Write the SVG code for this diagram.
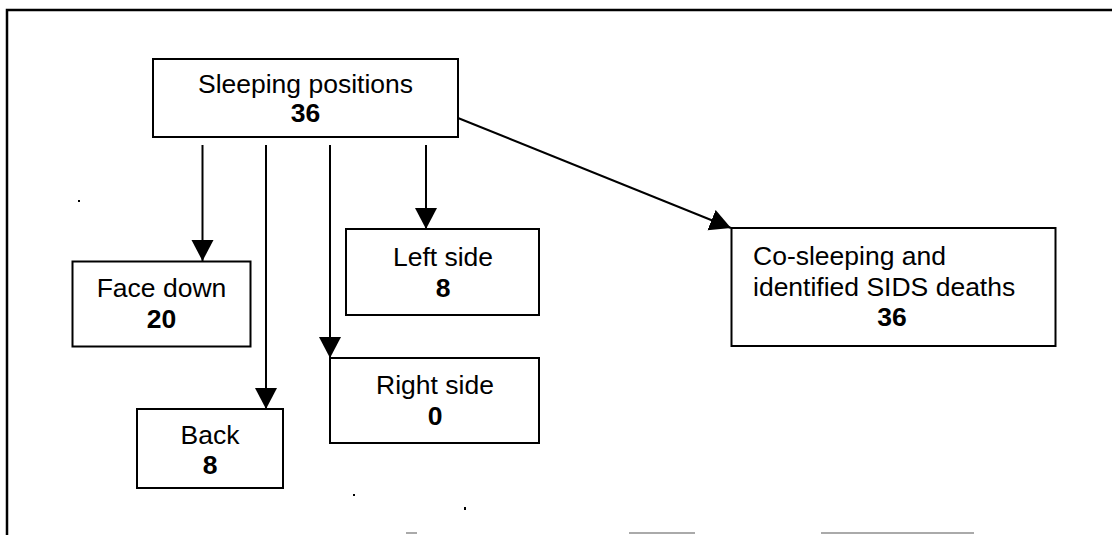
<svg xmlns="http://www.w3.org/2000/svg" width="1112" height="535" viewBox="0 0 1112 535">
  <defs>
    <marker id="arrow" markerUnits="userSpaceOnUse" markerWidth="24" markerHeight="24" refX="21" refY="11" orient="auto">
      <path d="M0,0 L21,11 L0,22 Z" fill="#000"/>
    </marker>
    <style>
      .box { fill: #fff; stroke: #000; stroke-width: 2; }
      .t { font-family: "Liberation Sans", Arial, sans-serif; font-size: 26.5px; fill: #000; }
      .c { text-anchor: middle; }
      .b { font-weight: bold; }
      .conn { stroke: #000; stroke-width: 2; fill: none; marker-end: url(#arrow); }
      .frame { stroke: #000; stroke-width: 2.5; fill: none; }
      .scan { stroke: #aaa; stroke-width: 2; }
    </style>
  </defs>
  <rect width="1112" height="535" fill="#fff"/>
  <g id="frame">
    <path class="frame" d="M7,535 L7,10 L1112,10"/>
    <line class="scan" x1="406" y1="533" x2="417" y2="533"/>
    <line class="scan" x1="629" y1="533" x2="695" y2="533"/>
    <line class="scan" x1="821" y1="533" x2="974" y2="533"/>
    <rect x="78" y="200" width="2" height="2" fill="#000"/>
    <rect x="353" y="494" width="2" height="2" fill="#000"/>
    <rect x="464" y="507" width="2" height="3" fill="#000"/>
  </g>
  <g id="connectors">
    <line class="conn" x1="202.5" y1="145" x2="202.5" y2="261"/>
    <line class="conn" x1="266" y1="145" x2="266" y2="409"/>
    <line class="conn" x1="330" y1="145" x2="330" y2="358"/>
    <line class="conn" x1="426" y1="145" x2="426" y2="229"/>
    <line class="conn" x1="458" y1="118" x2="731" y2="228"/>
  </g>
  <g id="node-sleeping">
    <rect class="box" x="153" y="59" width="305" height="78"/>
    <text class="t c" x="305.5" y="93">Sleeping positions</text>
    <text class="t c b" x="305.5" y="122">36</text>
  </g>
  <g id="node-facedown">
    <rect class="box" x="72.5" y="261.5" width="178" height="85"/>
    <text class="t c" x="161.5" y="297">Face down</text>
    <text class="t c b" x="161.5" y="328">20</text>
  </g>
  <g id="node-back">
    <rect class="box" x="137" y="409" width="146" height="79"/>
    <text class="t c" x="210" y="444">Back</text>
    <text class="t c b" x="210" y="474">8</text>
  </g>
  <g id="node-left">
    <rect class="box" x="346" y="229" width="193" height="86"/>
    <text class="t c" x="443" y="266">Left side</text>
    <text class="t c b" x="443" y="297">8</text>
  </g>
  <g id="node-right">
    <rect class="box" x="330" y="358" width="209" height="85"/>
    <text class="t c" x="435" y="394">Right side</text>
    <text class="t c b" x="435" y="425">0</text>
  </g>
  <g id="node-cosleeping">
    <rect class="box" x="731.5" y="228" width="324" height="118"/>
    <text class="t" x="753" y="265">Co-sleeping and</text>
    <text class="t" x="753" y="296">identified SIDS deaths</text>
    <text class="t c b" x="892" y="326">36</text>
  </g>
</svg>
